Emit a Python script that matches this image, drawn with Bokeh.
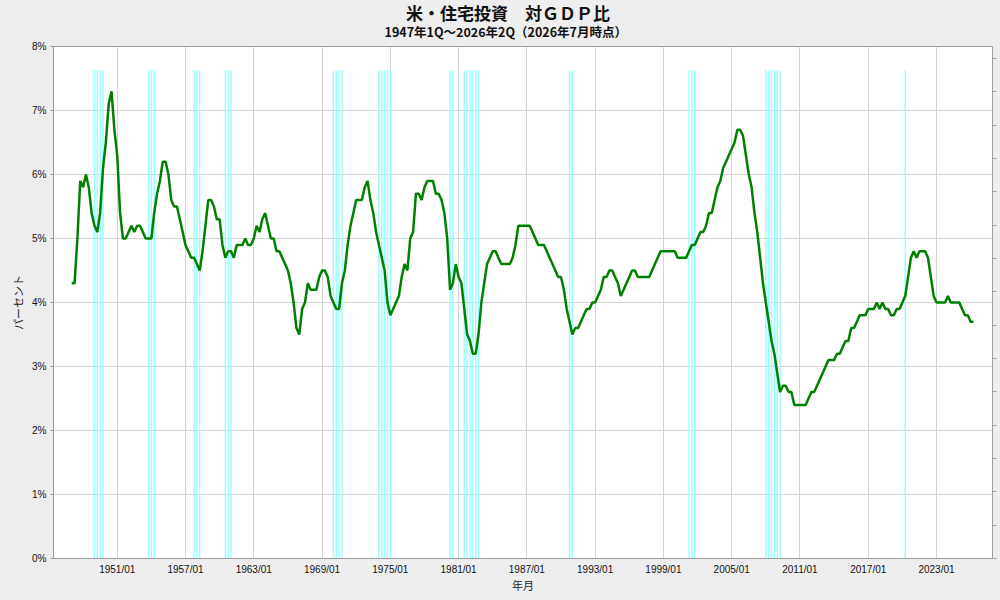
import pandas as pd
from bokeh.plotting import figure
from bokeh.models import Range1d, LinearAxis, FixedTicker, Title
from bokeh.embed import file_html
from bokeh.resources import INLINE

# ---------------- data ----------------
TITLE = "米・住宅投資　対ＧＤＰ比"
SUBTITLE = "1947年1Q～2026年2Q（2026年7月時点）"
Y_LABEL = "パーセント"
X_LABEL = "年月"

START_QUARTER = "1947Q1"
share_1940s = [4.3, 4.3, 5.0, 5.9,  5.8, 6.0, 5.8, 5.4,  5.2, 5.1, 5.4, 6.1]
share_1950s = [6.5, 7.1, 7.3, 6.7,  6.3, 5.4, 5.0, 5.0,  5.1, 5.2, 5.1, 5.2,
               5.2, 5.1, 5.0, 5.0,  5.0, 5.4, 5.7, 5.9,  6.2, 6.2, 6.0, 5.6,
               5.5, 5.5, 5.3, 5.1,  4.9, 4.8, 4.7, 4.7,  4.6, 4.5, 4.8, 5.2,
               5.6, 5.6, 5.5, 5.3]
share_1960s = [5.3, 4.9, 4.7, 4.8,  4.8, 4.7, 4.9, 4.9,  4.9, 5.0, 4.9, 4.9,
               5.0, 5.2, 5.1, 5.3,  5.4, 5.2, 5.0, 5.0,  4.8, 4.8, 4.7, 4.6,
               4.5, 4.3, 4.0, 3.6,  3.5, 3.9, 4.0, 4.3,  4.2, 4.2, 4.2, 4.4,
               4.5, 4.5, 4.4, 4.1]
share_1970s = [4.0, 3.9, 3.9, 4.3,  4.5, 4.9, 5.2, 5.4,  5.6, 5.6, 5.6, 5.8,
               5.9, 5.6, 5.4, 5.1,  4.9, 4.7, 4.5, 4.0,  3.8, 3.9, 4.0, 4.1,
               4.4, 4.6, 4.5, 5.0,  5.1, 5.7, 5.7, 5.6,  5.8, 5.9, 5.9, 5.9,
               5.7, 5.7, 5.6, 5.4]
share_1980s = [5.0, 4.2, 4.3, 4.6,  4.4, 4.3, 3.9, 3.5,  3.4, 3.2, 3.2, 3.5,
               4.0, 4.3, 4.6, 4.7,  4.8, 4.8, 4.7, 4.6,  4.6, 4.6, 4.6, 4.7,
               4.9, 5.2, 5.2, 5.2,  5.2, 5.2, 5.1, 5.0,  4.9, 4.9, 4.9, 4.8,
               4.7, 4.6, 4.5, 4.4]
share_1990s = [4.4, 4.2, 3.9, 3.7,  3.5, 3.6, 3.6, 3.7,  3.8, 3.9, 3.9, 4.0,
               4.0, 4.1, 4.2, 4.4,  4.4, 4.5, 4.5, 4.4,  4.3, 4.1, 4.2, 4.3,
               4.4, 4.5, 4.5, 4.4,  4.4, 4.4, 4.4, 4.4,  4.5, 4.6, 4.7, 4.8,
               4.8, 4.8, 4.8, 4.8]
share_2000s = [4.8, 4.7, 4.7, 4.7,  4.7, 4.8, 4.9, 4.9,  5.0, 5.1, 5.1, 5.2,
               5.4, 5.4, 5.6, 5.8,  5.9, 6.1, 6.2, 6.3,  6.4, 6.5, 6.7, 6.7,
               6.6, 6.3, 6.0, 5.8,  5.4, 5.1, 4.7, 4.3,  4.0, 3.7, 3.4, 3.2,
               2.9, 2.6, 2.7, 2.7]
share_2010s = [2.6, 2.6, 2.4, 2.4,  2.4, 2.4, 2.4, 2.5,  2.6, 2.6, 2.7, 2.8,
               2.9, 3.0, 3.1, 3.1,  3.1, 3.2, 3.2, 3.3,  3.4, 3.4, 3.6, 3.6,
               3.7, 3.8, 3.8, 3.8,  3.9, 3.9, 3.9, 4.0,  3.9, 4.0, 3.9, 3.9,
               3.8, 3.8, 3.9, 3.9]
share_2020s = [4.0, 4.1, 4.4, 4.7,  4.8, 4.7, 4.8, 4.8,  4.8, 4.7, 4.4, 4.1,
               4.0, 4.0, 4.0, 4.0,  4.1, 4.0, 4.0, 4.0,  4.0, 3.9, 3.8, 3.8,
               3.7, 3.7]

recession_quarters = [
    "1949Q1", "1949Q2", "1949Q3", "1949Q4",
    "1953Q4", "1954Q1", "1954Q2",
    "1957Q4", "1958Q1", "1958Q2",
    "1960Q3", "1960Q4", "1961Q1",
    "1970Q1", "1970Q2", "1970Q3", "1970Q4",
    "1974Q1", "1974Q2", "1974Q3", "1974Q4", "1975Q1",
    "1980Q2", "1980Q3",
    "1981Q3", "1981Q4", "1982Q1", "1982Q2", "1982Q3", "1982Q4",
    "1990Q4", "1991Q1",
    "2001Q2", "2001Q3", "2001Q4",
    "2008Q1", "2008Q2", "2008Q3", "2008Q4", "2009Q1", "2009Q2",
    "2020Q2",
]
recession_marker_level = 7.63

y_ticks = [0, 1, 2, 3, 4, 5, 6, 7, 8]
y_tick_labels = ["0%", "1%", "2%", "3%", "4%", "5%", "6%", "7%", "8%"]
x_ticks = [1951, 1957, 1963, 1969, 1975, 1981, 1987, 1993, 1999, 2005, 2011, 2017, 2023]
x_tick_labels = ["1951/01", "1957/01", "1963/01", "1969/01", "1975/01", "1981/01", "1987/01",
                 "1993/01", "1999/01", "2005/01", "2011/01", "2017/01", "2023/01"]
x_start, x_end = 1945.40, 2027.92
y_start, y_end = 0, 8
right_ticks = list(range(16))
right_end = 15.36

# ---------------- derived ----------------
values = (share_1940s + share_1950s + share_1960s + share_1970s + share_1980s
          + share_1990s + share_2000s + share_2010s + share_2020s)
periods = pd.period_range(START_QUARTER, periods=len(values), freq="Q")
t = list(periods.year + (periods.quarter - 1) / 4.0)
rp = pd.PeriodIndex(recession_quarters, freq="Q")
rt = list(rp.year + (rp.quarter - 1) / 4.0)

# ---------------- figure ----------------
W, H = 1000, 600
ML, MR, MT, MB = 53, 8, 46, 42
p = figure(width=W, height=H, output_backend="svg", toolbar_location=None,
           x_range=Range1d(x_start, x_end), y_range=Range1d(y_start, y_end),
           min_border_left=ML, min_border_right=MR, min_border_top=MT, min_border_bottom=MB)
p.border_fill_color = "#eeeeee"
p.background_fill_color = "#ffffff"
p.outline_line_color = "#a0a0a0"

LATIN = "Liberation Sans"
CJK = "Noto Sans CJK JP"

xa = p.xaxis[0]
xa.ticker = FixedTicker(ticks=x_ticks)
xa.major_label_overrides = {k: v for k, v in zip(x_ticks, x_tick_labels)}
xa.major_tick_out = 0
xa.major_tick_in = 0
xa.minor_tick_line_color = None
xa.axis_line_color = "#999999"
xa.major_label_text_font = LATIN
xa.major_label_text_font_size = "10px"
xa.major_label_text_color = "#111111"
xa.major_label_standoff = 5
xa.axis_label = X_LABEL
xa.axis_label_text_font = CJK
xa.axis_label_text_font_size = "11px"
xa.axis_label_text_font_style = "normal"
xa.axis_label_text_color = "#222222"
xa.axis_label_standoff = -1

ya = p.yaxis[0]
ya.ticker = FixedTicker(ticks=y_ticks)
ya.major_label_overrides = {k: v for k, v in zip(y_ticks, y_tick_labels)}
ya.major_tick_out = 3
ya.major_tick_in = 0
ya.minor_tick_line_color = None
ya.axis_line_color = "#999999"
ya.major_tick_line_color = "#999999"
ya.major_label_text_font = LATIN
ya.major_label_text_font_size = "10px"
ya.major_label_text_color = "#111111"
ya.major_label_standoff = 4
ya.axis_label = Y_LABEL
ya.axis_label_text_font = CJK
ya.axis_label_text_font_size = "11px"
ya.axis_label_text_font_style = "normal"
ya.axis_label_text_color = "#222222"
ya.axis_label_standoff = 3

p.extra_y_ranges = {"right": Range1d(0, right_end)}
ra = LinearAxis(y_range_name="right", ticker=FixedTicker(ticks=right_ticks),
                major_label_overrides={k: "" for k in right_ticks},
                major_label_standoff=0, major_tick_out=4, major_tick_in=0,
                minor_tick_line_color=None, axis_line_color="#a0a0a0",
                major_tick_line_color="#a0a0a0")
p.add_layout(ra, "right")

p.xgrid.ticker = FixedTicker(ticks=x_ticks)
p.grid.grid_line_color = "#d4d4d4"
p.grid.grid_line_width = 1

p.segment(x0=rt, y0=[0] * len(rt), x1=rt, y1=[recession_marker_level] * len(rt),
          line_color="#99ffff", line_width=1.5)
p.line(t, values, line_color="#008000", line_width=2.5)

# titles: left aligned with offsets so that they are centred on the page
p.add_layout(Title(text=SUBTITLE, align="left", offset=331, standoff=8, vertical_align="top",
                   text_font=CJK, text_font_size="12.5px", text_font_style="bold",
                   text_color="#111111"), "above")
p.add_layout(Title(text=TITLE, align="left", offset=352.5, standoff=-14,
                   text_font=CJK, text_font_size="17px", text_font_style="bold",
                   text_color="#111111"), "above")

html = file_html(p, INLINE, title="米・住宅投資 対GDP比")
html = html.replace("</head>", "<style>html,body{background:#eeeeee;}</style></head>", 1)
with open("out.html", "w", encoding="utf-8") as f:
    f.write(html)
